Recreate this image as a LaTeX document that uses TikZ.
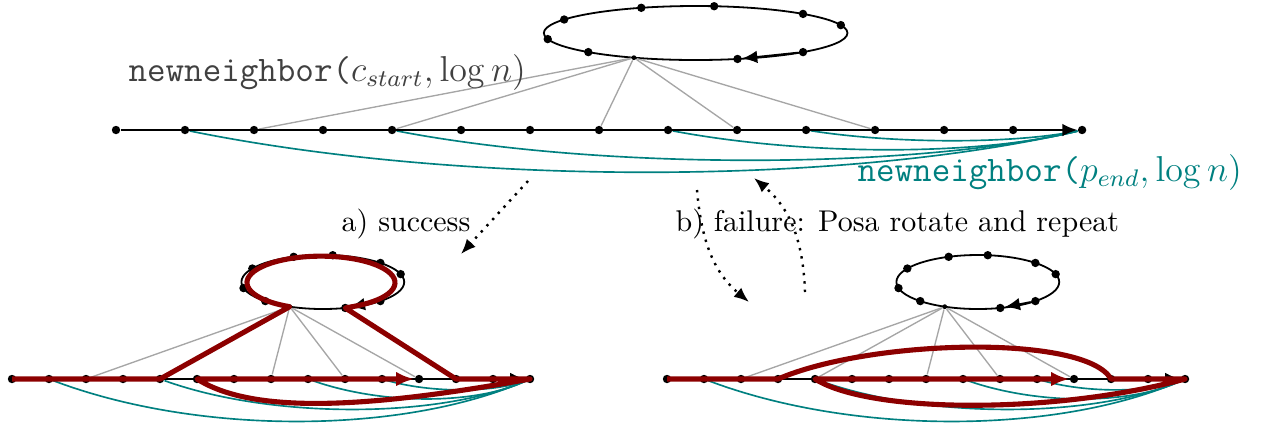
\documentclass[tikz,border=0pt]{standalone}
\usetikzlibrary{arrows.meta,calc}
\begin{document}
\begin{tikzpicture}[x=0.3333pt,y=-0.3333pt,
		vertex/.style={circle,fill,inner sep=0pt,minimum size=2.8pt},
		hub/.style={circle,fill,inner sep=0pt,minimum size=1.6pt},
		pathline/.style={semithick},
		spoke/.style={gray!70,line width=0.45pt},
		chord/.style={teal,line width=0.55pt},
		tour/.style={red!55!black,line width=1.7pt,line join=round},
		tip/.style={-{Latex[length=5pt,width=4.2pt]}},
		bigtip/.style={-{Latex[length=6pt,width=4.8pt]}},
		hint/.style={dotted,thick,-{Latex[length=5pt,width=4pt]}},
		lbl/.style={inner sep=0pt,anchor=base west}]
		\useasboundingbox (0,0) rectangle (1261,427);
		% path, cycle, spokes and chords, once on top and twice below
		\foreach \g/\ox/\oy/\u in {t/116/130/23pt, l/12/379/12.333pt, r/667/379/12.333pt}{
			\begin{scope}[shift={(\ox,\oy)},x=\u]
				\coordinate (\g cen) at (8.4,-97);
				\foreach \i in {0,...,14}
					\node[vertex] (\g p\i) at (\i,0) {};
				\foreach \ang [count=\k] in {-17,-45,-83,-111,-150,-193,-225,-286,-315}
					\node[vertex] (\g c\k) at ($(\g cen)+(\ang:2.2 and 27)$) {};
				\node[hub] (\g h) at ($(\g cen)+(-246:2.2 and 27)$) {};
				\draw[pathline] (\g cen) ellipse [x radius=2.2,y radius=27];
				\draw[pathline,tip] (\g c9) -- (\g c8);
				\foreach \j in {2,4,7,9,11}
					\draw[spoke] (\g h) -- (\g p\j);
				\foreach \s/\d/\da/\db in {1/56/4/3.5, 4/40/3/2.5, 8/26/2/1.5, 10/14/1.3/1}
					\draw[chord] (\g p\s) .. controls +(\da,\d) and +(-\db,\d) .. (\g p14);
				\draw[pathline,tip] (\g p0) -- (\g p14);
			\end{scope}
		}
		% a) the cycle is closed into the path
		\begin{scope}[shift={(12,379)},x=12.333pt]
			\draw[tour,bigtip] (lp0.center) -- (lp4.center) -- (lh.center)
				arc [start angle=-245,end angle=65,x radius=2.0,y radius=26.5]
				-- (lc8.center) -- (lp12.center) -- (lp14.center)
				.. controls +(-4.5,30) and +(1.5,35) .. (lp5.center) -- (lp11);
		\end{scope}
		% b) rotation of the path
		\begin{scope}[shift={(667,379)},x=12.333pt]
			\draw[tour,bigtip] (rp0.center) -- (rp3.center)
				.. controls +(2.5,-40) and +(-0.7,-45) .. (rp12.center) -- (rp14.center)
				.. controls +(-3.5,35) and +(1.5,35) .. (rp4.center) -- (rp11);
		\end{scope}
		\node[lbl,text=black!75,font=\large] (nnstart) at (128,81) {\texttt{newneighbor(}$c_{start},\log n)$};
		\node[lbl,text=teal,font=\large] (nnend) at (857,181) {\texttt{newneighbor(}$p_{end},\log n)$};
		\node[lbl] (succ) at (341,231) {a) success};
		\node[lbl] (fail) at (675,231) {b) failure: Posa rotate and repeat};
		\coordinate (sa) at (528,181);
		\coordinate (sb) at (461,254);
		\coordinate (fa) at (697,190);
		\coordinate (fb) at (749,302);
		\coordinate (ra) at (805,292);
		\coordinate (rb) at (754,178);
		\draw[hint] (sa) -- (sb);
		\draw[hint] (fa) to[out=-85,in=140] (fb);
		\draw[hint] (ra) to[out=92,in=-40] (rb);
	\end{tikzpicture}
\end{document}
